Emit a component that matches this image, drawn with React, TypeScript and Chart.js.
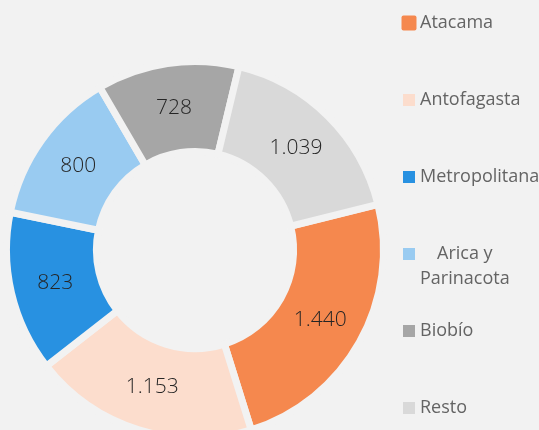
import React, { useEffect, useRef } from "react";
import { Chart, registerables } from "chart.js";

Chart.register(...registerables);

const regions: (string | string[])[] = [
  "Atacama",
  "Antofagasta",
  "Metropolitana",
  ["Arica y", "Parinacota"],
  "Biobío",
  "Resto",
];
const values = [1440, 1153, 823, 800, 728, 1039];
const colors = ["#F5884E", "#FCDDCD", "#2891E1", "#99CBF1", "#A6A6A6", "#D9D9D9"];

const BG = "#F2F2F2";
const W = 539;
const H = 430;
const CH = 446;

const fmt = (v: number) => String(v).replace(/\B(?=(\d{3})+(?!\d))/g, ".");

const valueLabels = {
  id: "valueLabels",
  afterDatasetsDraw(chart: any) {
    const ctx = chart.ctx;
    const meta = chart.getDatasetMeta(0);
    ctx.save();
    ctx.font = "300 21px 'Open Sans'";
    ctx.fillStyle = "#252525";
    ctx.textAlign = "center";
    ctx.textBaseline = "middle";
    meta.data.forEach((arc: any, i: number) => {
      const p = arc.tooltipPosition(false);
      ctx.fillText(fmt(values[i]), p.x, p.y);
    });
    ctx.restore();
  },
};

const sideLegend = {
  id: "sideLegend",
  afterDraw(chart: any) {
    const ctx = chart.ctx;
    const boxCx = 409;
    const tx = 420;
    const y0 = 23;
    const step = 77;
    const lh = 25;
    ctx.save();
    ctx.font = "400 18px 'Open Sans'";
    ctx.textBaseline = "middle";
    regions.forEach((lab, i) => {
      const y = y0 + i * step;
      const lines = Array.isArray(lab) ? lab : [lab];
      const s = i === 0 ? 15 : 12;
      ctx.fillStyle = colors[i];
      ctx.beginPath();
      if ((ctx as any).roundRect) {
        (ctx as any).roundRect(boxCx - s / 2, y - s / 2, s, s, i === 0 ? 2 : 0);
      } else {
        ctx.rect(boxCx - s / 2, y - s / 2, s, s);
      }
      ctx.fill();
      ctx.fillStyle = "#646464";
      if (lines.length > 1) {
        const maxW = Math.max(...lines.map((l) => ctx.measureText(l).width));
        ctx.textAlign = "center";
        lines.forEach((l, k) => ctx.fillText(l, tx + maxW / 2, y + k * lh));
      } else {
        ctx.textAlign = "left";
        ctx.fillText(lines[0], tx, y);
      }
    });
    ctx.restore();
  },
};

export default function App() {
  const ref = useRef<HTMLCanvasElement>(null);
  useEffect(() => {
    if (!ref.current) return;
    const size = 384;
    const cx = 195;
    const cy = 250;
    const chart = new Chart(ref.current, {
      type: "doughnut",
      data: {
        labels: regions as any,
        datasets: [
          {
            data: values,
            backgroundColor: colors,
            borderWidth: 7,
            borderColor: BG,
            borderJoinStyle: "miter",
            borderAlign: "center",
            hoverOffset: 0,
          } as any,
        ],
      },
      options: {
        responsive: false,
        animation: false,
        rotation: 76,
        cutout: "52.3%",
        layout: {
          padding: {
            left: cx - size / 2,
            top: cy - size / 2,
            right: W - (cx + size / 2),
            bottom: CH - (cy + size / 2),
          },
        },
        plugins: { legend: { display: false }, tooltip: { enabled: false } },
      } as any,
      plugins: [valueLabels, sideLegend],
    });
    return () => chart.destroy();
  }, []);
  return (
    <div
      style={{
        position: "fixed",
        left: 0,
        top: 0,
        width: W,
        height: H,
        overflow: "hidden",
        background: BG,
      }}
    >
      <canvas ref={ref} width={W} height={CH} style={{ display: "block" }} />
    </div>
  );
}
